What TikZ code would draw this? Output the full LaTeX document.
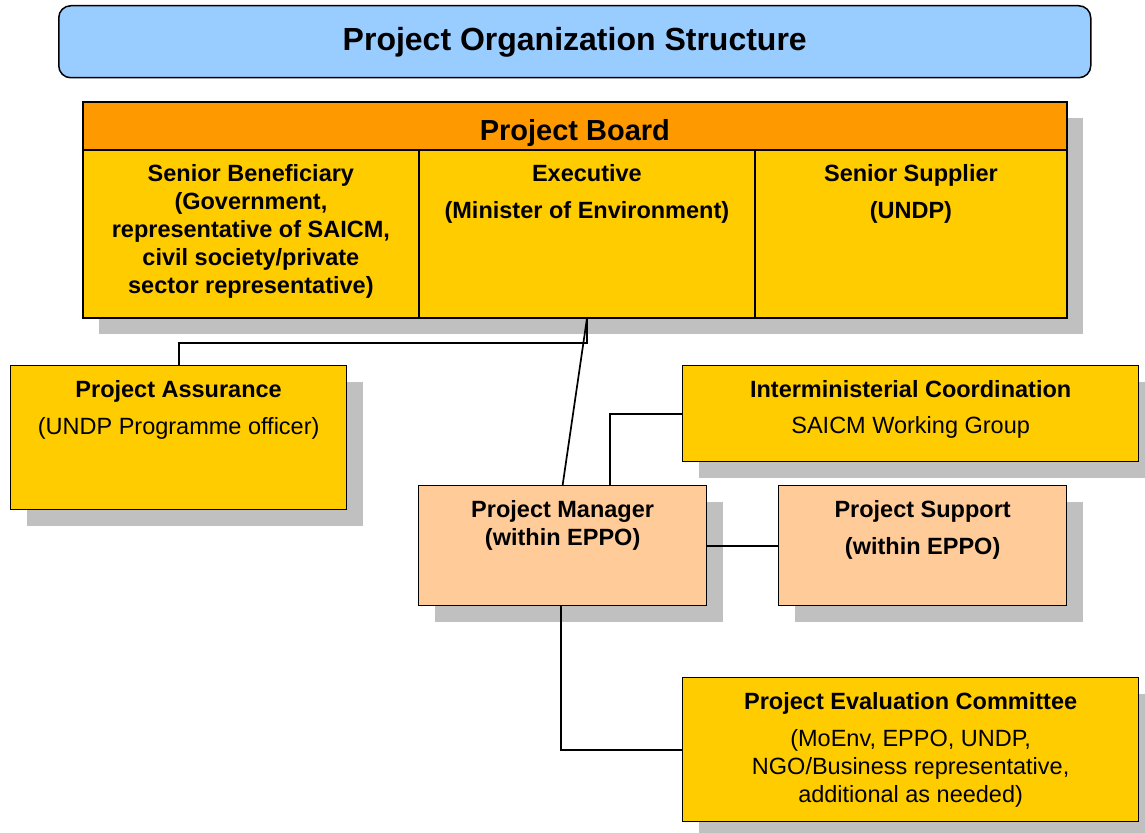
\documentclass[tikz,border=0pt]{standalone}
\usepackage{fontspec}
\setmainfont{Liberation Sans}
\usetikzlibrary{shadows}

\definecolor{titleblue}{HTML}{99CCFF}
\definecolor{boardorange}{HTML}{FF9900}
\definecolor{unityellow}{HTML}{FFCC00}
\definecolor{staffpeach}{HTML}{FFCC99}
\definecolor{shadowgray}{HTML}{C0C0C0}

\tikzset{
	unitbox/.style = {draw, line width = 1.3pt, inner sep = 0pt, anchor = north west,
		drop shadow = {shadow xshift = 16pt, shadow yshift = -16pt, fill = shadowgray, opacity = 1}},
	boardbox/.style = {unitbox, line width = 1.8pt},
	boxtext/.style = {anchor = north, inner sep = 0pt, align = center,
		font = \fontsize{23.5}{28}\selectfont},
	link/.style = {line width = 1.7pt}
}

\begin{document}
\begin{tikzpicture}[x = 1pt, y = -1pt]
	\def\textdrop{-15.5pt};

	\useasboundingbox (0,0) rectangle (1145,832);

	% title bar
	\node [draw, line width = 1.5pt, rounded corners = 12pt, fill = titleblue, inner sep = 0pt,
		anchor = north west, minimum width = 1032pt, minimum height = 72pt] (title) at (58,5) {};
	\node [anchor = base, font = \fontsize{32}{36}\selectfont\bfseries] (title-text)
		at ([yshift = -8.5pt]title.center) {Project Organization Structure};

	% project board
	\node [boardbox, fill = boardorange, minimum width = 984pt, minimum height = 48pt] (board) at (82,101) {};
	\node [anchor = base, font = \fontsize{29}{32}\selectfont\bfseries] (board-text)
		at ([yshift = -15pt]board.center) {Project Board};

	\node [boardbox, fill = unityellow, minimum width = 336pt, minimum height = 168pt] (sb) at (82,149) {};
	\node [boardbox, fill = unityellow, minimum width = 336pt, minimum height = 168pt] (ex) at (418,149) {};
	\node [boardbox, fill = unityellow, minimum width = 312pt, minimum height = 168pt] (ss) at (754,149) {};

	\node [boxtext, font = \fontsize{23.5}{28}\selectfont\bfseries] (sb-text) at ([yshift = \textdrop]sb.north)
		{Senior Beneficiary\\(Government,\\representative of SAICM,\\civil society/private\\sector representative)};
	\node [boxtext, font = \fontsize{23.5}{28}\selectfont\bfseries] (ex-text) at ([yshift = \textdrop]ex.north)
		{Executive\\[9pt](Minister of Environment)};
	\node [boxtext, font = \fontsize{23.5}{28}\selectfont\bfseries] (ss-text) at ([yshift = \textdrop]ss.north)
		{Senior Supplier\\[9pt](UNDP)};

	% units round the board
	\node [unitbox, fill = unityellow, minimum width = 336pt, minimum height = 144pt] (pa) at (10,365) {};
	\node [boxtext] (pa-text) at ([yshift = \textdrop]pa.north)
		{\textbf{Project Assurance}\\[9pt](UNDP Programme officer)};

	\node [unitbox, fill = unityellow, minimum width = 456pt, minimum height = 96pt] (ic) at (682,365) {};
	\node [boxtext] (ic-text) at ([yshift = \textdrop]ic.north)
		{\textbf{Interministerial Coordination}\\[8pt]SAICM Working Group};

	\node [unitbox, fill = staffpeach, minimum width = 288pt, minimum height = 120pt] (pm) at (418,485) {};
	\node [boxtext, font = \fontsize{23.5}{28}\selectfont\bfseries] (pm-text) at ([yshift = \textdrop]pm.north)
		{Project Manager\\(within EPPO)};

	\node [unitbox, fill = staffpeach, minimum width = 288pt, minimum height = 120pt] (ps) at (778,485) {};
	\node [boxtext, font = \fontsize{23.5}{28}\selectfont\bfseries] (ps-text) at ([yshift = \textdrop]ps.north)
		{Project Support\\[9pt](within EPPO)};

	\node [unitbox, fill = unityellow, minimum width = 456pt, minimum height = 144pt] (pec) at (682,677) {};
	\node [boxtext] (pec-text) at ([yshift = \textdrop]pec.north)
		{\textbf{Project Evaluation Committee}\\[9pt](MoEnv, EPPO, UNDP,\\NGO/Business representative,\\additional as needed)};

	% connectors
	\begin{scope}[link]
		\draw (ex.south) -- ++(0,24) -| (pa.north);
		\draw (ex.south) -- (pm.north);
		\draw (ic.west) -| ([xshift = 47pt]pm.north);
		\draw (pm.east) -- (ps.west);
		\draw ([xshift = -2pt]pm.south) |- (pec.west);
	\end{scope}
\end{tikzpicture}
\end{document}
